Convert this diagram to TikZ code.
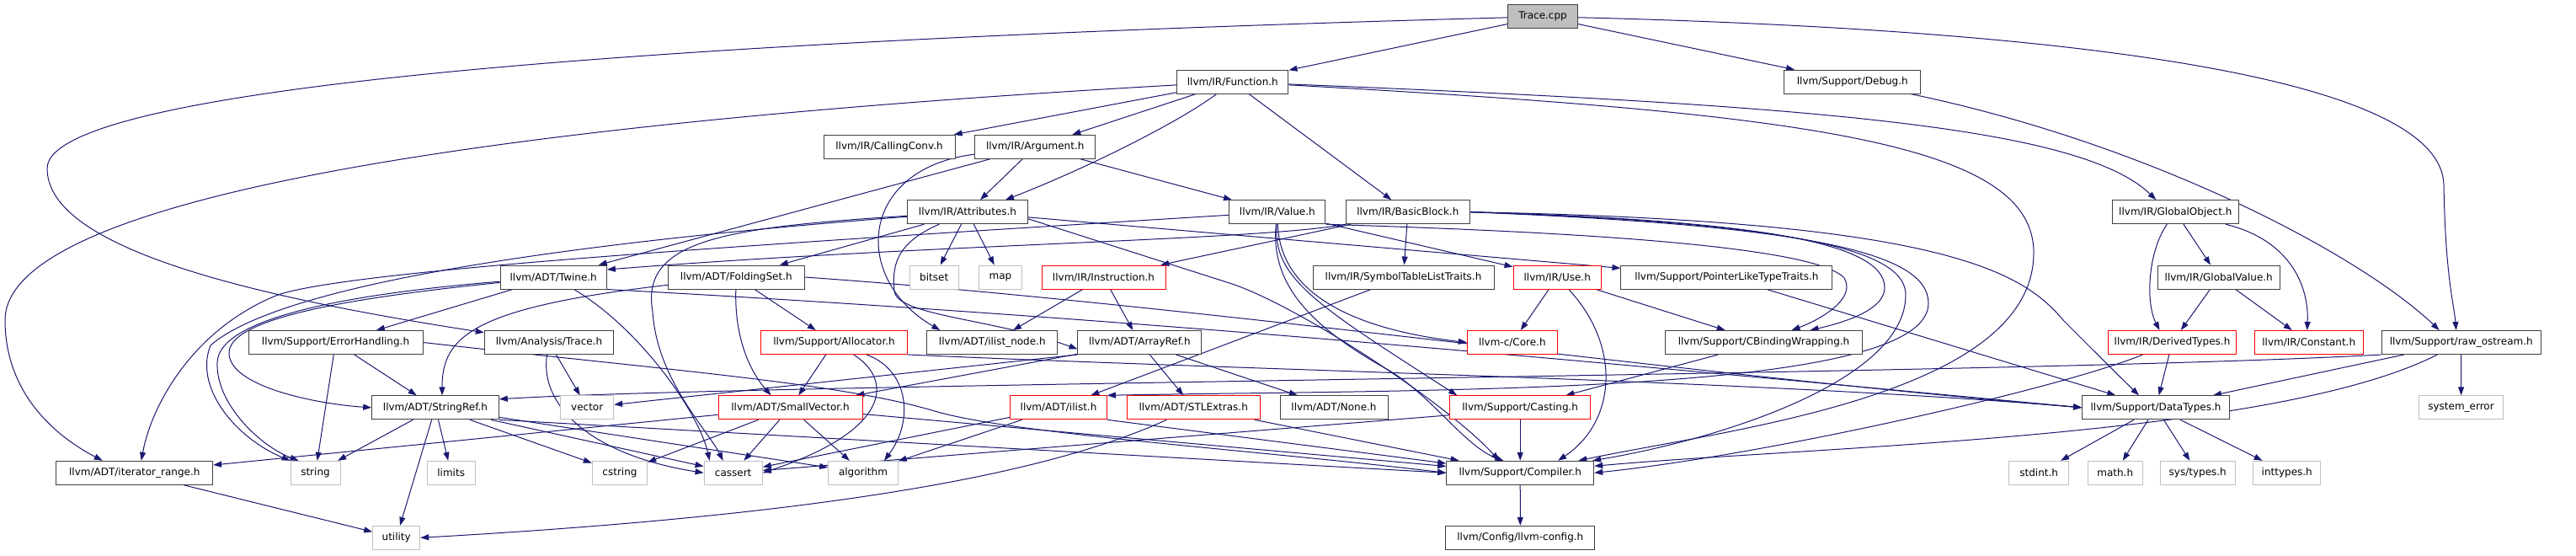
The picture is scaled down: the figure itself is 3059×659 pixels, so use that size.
\documentclass[tikz,border=0pt]{standalone}
\usepackage{fontspec}
\setmainfont{DejaVu Sans}
\usetikzlibrary{arrows.meta}
\pgfdeclarelayer{bg}
\pgfsetlayers{bg,main}
\definecolor{edgec}{RGB}{25,25,112}
\definecolor{grayb}{RGB}{191,191,191}
\definecolor{darkb}{RGB}{64,64,64}
\definecolor{redb}{RGB}{255,0,0}
\begin{document}
\begin{tikzpicture}[x=1pt,y=-1pt,
  nbox/.style={draw=darkb, line width=1pt, fill=white, rectangle, minimum height=28, inner sep=0pt, font=\fontsize{12}{14}\selectfont},
  rbox/.style={nbox, draw=redb},
  gbox/.style={nbox, draw=grayb},
  e/.style={draw=edgec, line width=1pt, -{Triangle[length=10pt,width=7pt]}}]
\useasboundingbox (0,0) rectangle (3059,659);
% ---------------- nodes ----------------
\node[nbox, fill=grayb, minimum width=82.6] (trace) at (1832,19.7) {Trace.cpp};
\node[nbox, minimum width=132.3] (func) at (1463.8,97.2) {llvm/IR/Function.h};
\node[nbox, minimum width=161.7] (debug) at (2199.8,97.2) {llvm/Support/Debug.h};
\node[nbox, minimum width=156] (callconv) at (1056,174.3) {llvm/IR/CallingConv.h};
\node[nbox, minimum width=143] (arg) at (1229.2,174.3) {llvm/IR/Argument.h};
\node[nbox, minimum width=142.6] (attr) at (1149,251.7) {llvm/IR/Attributes.h};
\node[nbox, minimum width=114.3] (value) at (1516.8,251.7) {llvm/IR/Value.h};
\node[nbox, minimum width=147] (bb) at (1671.8,251.7) {llvm/IR/BasicBlock.h};
\node[nbox, minimum width=150] (globobj) at (2583.3,251.7) {llvm/IR/GlobalObject.h};
\node[nbox, minimum width=126.3] (twine) at (657.2,329) {llvm/ADT/Twine.h};
\node[nbox, minimum width=162] (foldingset) at (874.3,329) {llvm/ADT/FoldingSet.h};
\node[gbox, minimum width=58.3] (bitset) at (1109.2,329) {bitset};
\node[gbox, minimum width=50.6] (map) at (1188,329) {map};
\node[rbox, minimum width=147] (instr) at (1310.5,329) {llvm/IR/Instruction.h};
\node[nbox, minimum width=215] (symtab) at (1666.5,329) {llvm/IR/SymbolTableListTraits.h};
\node[rbox, minimum width=104.3] (use) at (1849.2,329) {llvm/IR/Use.h};
\node[nbox, minimum width=250.7] (pltt) at (2050.3,329) {llvm/Support/PointerLikeTypeTraits.h};
\node[nbox, minimum width=144.7] (gvalue) at (2634.7,329) {llvm/IR/GlobalValue.h};
\node[nbox, minimum width=207] (errh) at (398.5,406.5) {llvm/Support/ErrorHandling.h};
\node[nbox, minimum width=153.4] (atrace) at (652,406.5) {llvm/Analysis/Trace.h};
\node[rbox, minimum width=174.4] (alloc) at (990.5,406.5) {llvm/Support/Allocator.h};
\node[nbox, minimum width=154.7] (ilistnode) at (1178.3,406.5) {llvm/ADT/ilist\_node.h};
\node[nbox, minimum width=146.7] (arrayref) at (1353.3,406.5) {llvm/ADT/ArrayRef.h};
\node[rbox, minimum width=107] (core) at (1795.8,406.5) {llvm-c/Core.h};
\node[nbox, minimum width=233.6] (cbw) at (2094.5,406.5) {llvm/Support/CBindingWrapping.h};
\node[rbox, minimum width=152.4] (derived) at (2579.5,406.5) {llvm/IR/DerivedTypes.h};
\node[rbox, minimum width=128.7] (constant) at (2741.7,406.5) {llvm/IR/Constant.h};
\node[nbox, minimum width=189.3] (rawos) at (2922.7,406.5) {llvm/Support/raw\_ostream.h};
\node[nbox, minimum width=150.6] (stringref) at (517,483.8) {llvm/ADT/StringRef.h};
\node[gbox, minimum width=63] (vector) at (697.2,483.8) {vector};
\node[rbox, minimum width=171] (smallvec) at (938.5,483.8) {llvm/ADT/SmallVector.h};
\node[rbox, minimum width=114.6] (ilist) at (1257,483.8) {llvm/ADT/ilist.h};
\node[rbox, minimum width=157.7] (stlextras) at (1417.2,483.8) {llvm/ADT/STLExtras.h};
\node[nbox, minimum width=128] (none) at (1584,483.8) {llvm/ADT/None.h};
\node[rbox, minimum width=167] (casting) at (1805.2,483.8) {llvm/Support/Casting.h};
\node[nbox, minimum width=174.6] (datatypes) at (2560,483.8) {llvm/Support/DataTypes.h};
\node[gbox, minimum width=99.6] (syserr) at (2922.5,483.8) {system\_error};
\node[nbox, minimum width=185.7] (iterrange) at (159.8,561.3) {llvm/ADT/iterator\_range.h};
\node[gbox, minimum width=59] (string) at (374.5,561.3) {string};
\node[gbox, minimum width=56.7] (limits) at (535.7,561.3) {limits};
\node[gbox, minimum width=65.4] (cstring) at (736,561.3) {cstring};
\node[gbox, minimum width=69.3] (cassert) at (870.7,561.3) {cassert};
\node[gbox, minimum width=82.6] (algorithm) at (1025,561.3) {algorithm};
\node[nbox, minimum width=175] (compiler) at (1805.2,561.3) {llvm/Support/Compiler.h};
\node[gbox, minimum width=71] (stdint) at (2421.2,561.3) {stdint.h};
\node[gbox, minimum width=65.3] (math) at (2511.7,561.3) {math.h};
\node[gbox, minimum width=88.7] (systypes) at (2609.7,561.3) {sys/types.h};
\node[gbox, minimum width=80] (inttypes) at (2715.7,561.3) {inttypes.h};
\node[gbox, minimum width=56] (utility) at (470.7,638.3) {utility};
\node[nbox, minimum width=177.3] (llvmconfig) at (1805.3,638.3) {llvm/Config/llvm-config.h};
% ---------------- edges ----------------
\begin{pgfonlayer}{bg}
\fill[white] (0,0) rectangle (3059,659);
% Trace.cpp
\draw[e] (trace) .. controls (900,45) and (56,95) .. (56,200) .. controls (56,285) and (250,345) .. (atrace);
\draw[e] (trace) -- (func);
\draw[e] (trace) -- (debug);
\draw[e] (trace) .. controls (2450,35) and (2900,90) .. (2902,220) .. controls (2904,330) and (2914,360) .. ([xshift=-6]rawos.north);
% Function.h
\draw[e] (func) .. controls (700,140) and (6,220) .. (6,380) .. controls (6,470) and (70,520) .. ([xshift=-38]iterrange.north);
\draw[e] (func) -- (callconv);
\draw[e] (func) -- (arg);
\draw[e] (func) .. controls (1400,145) and (1290,200) .. ([xshift=45]attr.north);
\draw[e] (func) -- (bb);
\draw[e] (func) .. controls (2150,125) and (2470,150) .. ([xshift=-23]globobj.north);
\draw[e] (func) .. controls (2150,135) and (2415,170) .. (2415,300) .. controls (2415,470) and (2050,510) .. (compiler);
% Debug.h
\draw[e] (debug) .. controls (2550,170) and (2800,300) .. ([xshift=-26]rawos.north);
% Argument.h
\draw[e] (arg) -- (twine);
\draw[e] (arg) .. controls (1020,200) and (1010,330) .. ([xshift=-62]ilistnode.north);
\draw[e] (arg) -- (attr);
\draw[e] (arg) -- (value);
% Attributes.h
\draw[e] (attr) -- (foldingset);
\draw[e] (attr) .. controls (1060,290) and (1060,320) .. (1062,345) .. controls (1064,375) and (1180,378) .. ([yshift=-8]arrayref.west);
\draw[e] (attr) -- (bitset);
\draw[e] (attr) -- (map);
\draw[e] (attr) -- (pltt);
\draw[e] ([yshift=-8]attr.east) -- (1460,336) .. controls (1540,361.5) and (1720,480) .. ([xshift=-25]compiler.north);
\draw[e] (attr) .. controls (860,270) and (760,285) .. (775,370) .. controls (780,450) and (840,510) .. ([xshift=-12]cassert.north);
\draw[e] (attr) .. controls (650,290) and (330,340) .. (250,410) .. controls (230,460) and (280,520) .. (string.north west);
% Value.h
\draw[e] (value) .. controls (900,290) and (420,320) .. (330,350) .. controls (230,390) and (180,480) .. ([xshift=8]iterrange.north);
\draw[e] (value.south east) .. controls (1750,272) and (2150,285) .. (2190,330) .. controls (2205,355) and (2160,380) .. ([xshift=33]cbw.north);
\draw[e] (value) -- (use);
\draw[e] (value) .. controls (1512,330) and (1560,360) .. ([xshift=-75]casting.north);
\draw[e] (value) .. controls (1520,345) and (1600,390) .. (core.west);
\draw[e] (value) .. controls (1508,340) and (1560,390) .. (1650,440) .. controls (1700,470) and (1740,530) .. ([xshift=-20]compiler.north);
% BasicBlock.h
\draw[e] (bb) -- (symtab);
\draw[e] (bb) -- (instr);
\draw[e] (bb.south west) .. controls (1500,285) and (1100,290) .. ([yshift=9]twine.east);
\draw[e] (bb.east) .. controls (2100,262) and (2235,290) .. (2238,340) .. controls (2240,370) and (2180,385) .. ([xshift=55]cbw.north);
\draw[e] (bb.east) .. controls (2150,265) and (2263,300) .. (2263,350) .. controls (2263,450) and (2050,520) .. (compiler);
\draw[e] (bb.east) .. controls (2300,262) and (2400,320) .. (2450,380) .. controls (2490,420) and (2520,450) .. ([xshift=-20]datatypes.north);
\draw[e] (bb.east) .. controls (2150,268) and (2290,300) .. (2290,360) .. controls (2290,470) and (1700,462) .. (ilist.north east);
% GlobalObject.h / GlobalValue.h
\draw[e] (globobj) .. controls (2550,300) and (2548,360) .. ([xshift=-15]derived.north);
\draw[e] (globobj) -- (gvalue);
\draw[e] (globobj) .. controls (2720,285) and (2742,340) .. ([xshift=-2]constant.north);
\draw[e] (gvalue) -- (derived);
\draw[e] (gvalue) -- (constant);
% Twine.h
\draw[e] (twine) -- (errh);
\draw[e] (twine) .. controls (400,350) and (260,380) .. (258,430) .. controls (256,480) and (310,530) .. ([xshift=-20]string.north);
\draw[e] (twine) .. controls (400,355) and (270,380) .. (272,420) .. controls (274,460) and (380,480) .. (stringref.west);
\draw[e] (twine) .. controls (760,390) and (830,490) .. ([xshift=-28]cassert.north);
\draw[e] (twine.south east) .. controls (1400,380) and (2000,440) .. (datatypes.west);
% FoldingSet.h
\draw[e] (foldingset) .. controls (560,365) and (525,400) .. ([xshift=8]stringref.north);
\draw[e] (foldingset) .. controls (872,400) and (890,440) .. ([xshift=-23]smallvec.north);
\draw[e] (foldingset) -- (alloc);
\draw[e] (foldingset.east) .. controls (1400,360) and (2000,445) .. (datatypes.west);
% Allocator.h
\draw[e] (alloc) -- (smallvec);
\draw[e] (alloc) .. controls (1080,440) and (1085,500) .. ([xshift=25]algorithm.north);
\draw[e] (alloc) .. controls (1060,450) and (1060,510) .. (cassert.east);
\draw[e] (alloc.south east) .. controls (1500,440) and (2100,452) .. (datatypes.west);
% Analysis/Trace.h
\draw[e] (atrace) -- (vector);
\draw[e] (atrace) .. controls (640,480) and (700,540) .. (cassert.west);
% ErrorHandling.h
\draw[e] (errh) -- (string);
\draw[e] (errh) -- (stringref);
\draw[e] (errh.east) .. controls (800,440) and (1000,455) .. (1110,488) .. controls (1200,515) and (1500,535) .. (compiler.west);
% Instruction.h
\draw[e] (instr) -- (ilistnode);
\draw[e] (instr) -- (arrayref);
% ArrayRef.h
\draw[e] (arrayref) -- (smallvec);
\draw[e] (arrayref.south west) -- (vector);
\draw[e] (arrayref) -- (stlextras);
\draw[e] (arrayref) -- (none);
% Use.h
\draw[e] (use) -- (core);
\draw[e] (use) .. controls (1925,410) and (1920,500) .. ([xshift=45]compiler.north);
\draw[e] (use) -- (cbw);
% others of row 4/5
\draw[e] (symtab) -- (ilist);
\draw[e] (pltt) -- (datatypes);
\draw[e] (cbw) -- (casting);
\draw[e] (derived) -- (datatypes);
\draw[e] (derived) .. controls (2450,460) and (2100,540) .. (compiler.east);
% raw_ostream.h
\draw[e] (rawos) -- (datatypes);
\draw[e] (rawos) -- (syserr);
\draw[e] (rawos) .. controls (2700,520) and (2150,530) .. (compiler);
\draw[e] (rawos.south west) .. controls (2400,445) and (900,455) .. ([yshift=10]stringref.east);
% StringRef.h
\draw[e] (stringref) -- (string);
\draw[e] (stringref) -- (limits);
\draw[e] (stringref) -- (utility);
\draw[e] (stringref) -- (cstring);
\draw[e] (stringref) -- (cassert);
\draw[e] (stringref) -- (algorithm);
\draw[e] (stringref.south east) -- (compiler.west);
% SmallVector.h
\draw[e] (smallvec) -- (iterrange);
\draw[e] (smallvec) -- (cstring);
\draw[e] (smallvec) -- (cassert);
\draw[e] (smallvec) -- (algorithm);
\draw[e] (smallvec) -- (compiler);
% ilist.h
\draw[e] (ilist) -- (cassert);
\draw[e] (ilist) -- (algorithm);
\draw[e] (ilist.south east) -- (compiler);
% STLExtras.h
\draw[e] (stlextras) .. controls (1250,560) and (1000,610) .. (utility.east);
\draw[e] (stlextras) -- (compiler);
% Casting.h
\draw[e] (casting) -- (compiler);
\draw[e] ([yshift=-9]casting.west) -- (cassert);
% leaves
\draw[e] (iterrange) -- (utility);
\draw[e] (datatypes) -- (stdint);
\draw[e] (datatypes) -- (math);
\draw[e] (datatypes) -- (systypes);
\draw[e] (datatypes) -- (inttypes);
\draw[e] (compiler) -- (llvmconfig);
\end{pgfonlayer}
\end{tikzpicture}
\end{document}
